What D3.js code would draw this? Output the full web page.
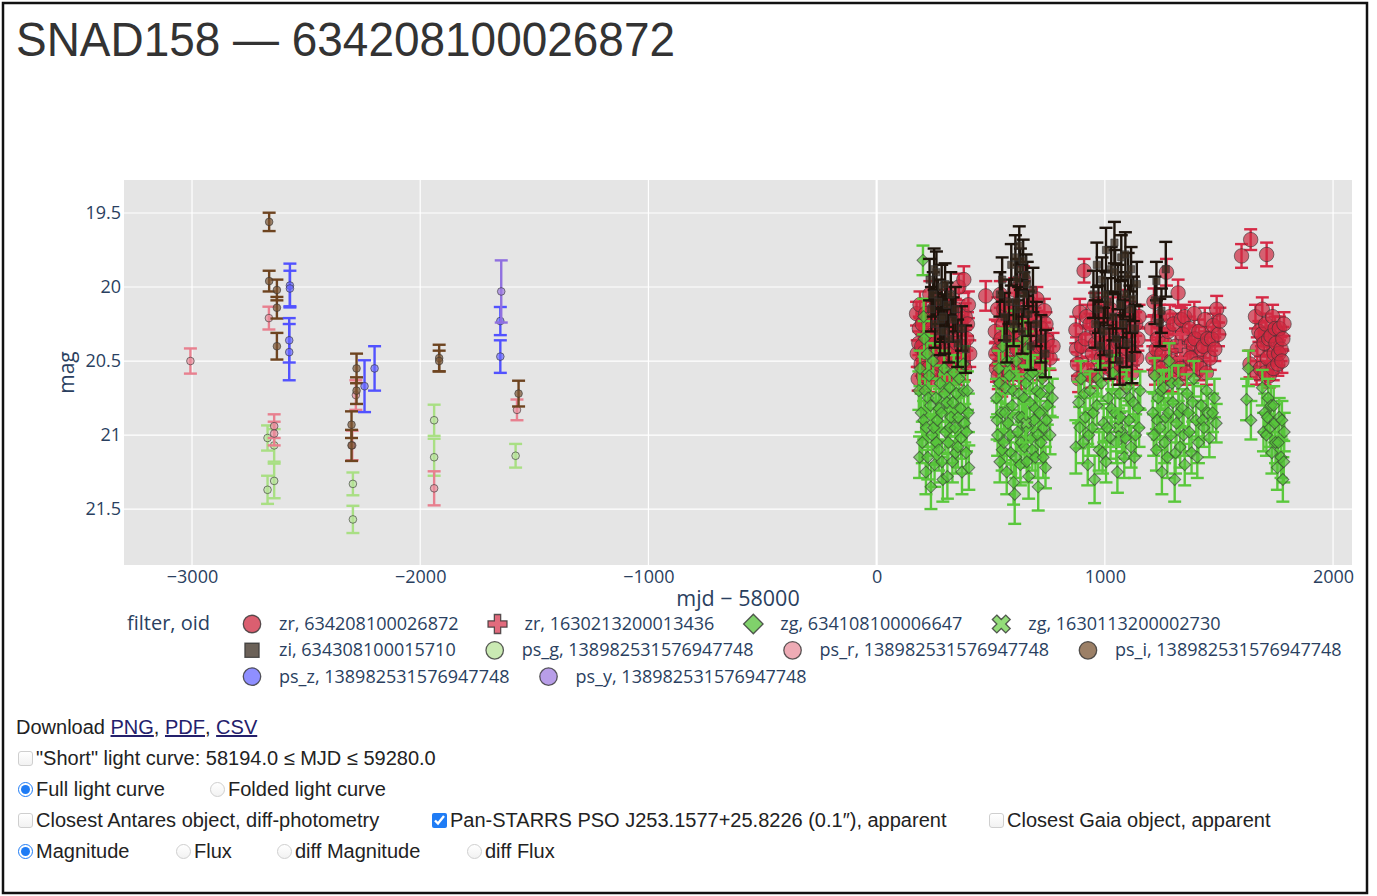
<!DOCTYPE html>
<html>
<head>
<meta charset="utf-8">
<script src="https://cdn.jsdelivr.net/npm/d3@7"></script>
<style>
  body { margin: 0; background: #fff; width: 1377px; height: 896px; overflow: hidden; position: relative;
         font-family: "Liberation Sans", Arial, Helvetica, sans-serif; }
  #chart { position: absolute; left: 0; top: 0; }
  .ctl { position: absolute; font-size: 20px; color: #222; white-space: nowrap; display: flex; align-items: center; height: 24px; }
  .ctl input { margin: 0 3px 0 0; width: 15px; height: 15px; accent-color: #1f7cf5; }
  .ctl input.off { appearance: none; -webkit-appearance: none; border: 1px solid #cfcfcf; background: linear-gradient(#fff, #f2f2f2); }
  .ctl input.off[type=checkbox] { border-radius: 3px; }
  .ctl input.off[type=radio] { border-radius: 50%; }
  .ctl a { color: #24206b; }
</style>
</head>
<body>
<svg id="chart"></svg>
<div id="controls"></div>
<script>
// axis ranges and ticks
const xRange = [-3298, 2083], yRange = [19.277, 21.878];
const xTicks = [-3000, -2000, -1000, 0, 1000, 2000];
const yTicks = [19.5, 20, 20.5, 21, 21.5];

// [mjd - 58000, mag, err]
const zr_634208100026872 = [
  [175,20.18,.08],[178,20.45,.09],[182,20.62,.08],[185,20.38,.08],[187,20.28,.08],[190,20.12,.09],[195,20.52,.08],[198,20.40,.08],
  [200,20.25,.07],[205,20.60,.09],[210,20.44,.07],[212,20.55,.08],[215,20.18,.08],[222,20.33,.07],[226,20.22,.08],[228,20.55,.08],
  [233,20.05,.09],[238,20.62,.09],[240,20.28,.07],[246,20.47,.08],[250,20.32,.08],[252,20.15,.08],[258,20.38,.07],[262,20.12,.08],
  [265,20.58,.09],[270,20.22,.07],[274,20.52,.08],[276,20.42,.08],[282,20.10,.08],[286,20.25,.08],[288,20.35,.07],[295,20.50,.08],
  [298,20.60,.09],[300,20.20,.07],[306,20.62,.09],[310,20.42,.08],[312,20.30,.08],[318,20.08,.08],[322,20.18,.08],[325,20.45,.07],
  [332,20.26,.08],[336,20.36,.08],[338,20.55,.08],[345,20.15,.07],[348,20.58,.08],[352,20.38,.08],[358,20.22,.08],[360,20.00,.09],
  [368,20.28,.08],[372,20.40,.08],[375,20.48,.08],[382,19.95,.09],[385,20.55,.08],[388,20.20,.09],[395,20.35,.08],[398,20.25,.08],
  [402,20.12,.09],[408,20.45,.09],[478,20.06,.10],
  [520,20.30,.08],[522,20.45,.08],[525,20.55,.09],[530,20.15,.08],[533,20.60,.09],[536,20.42,.07],[542,20.05,.09],[545,20.35,.08],
  [548,20.65,.09],[555,20.25,.07],[558,20.15,.08],[562,20.48,.08],[568,20.12,.08],[572,20.55,.08],[575,20.35,.07],[582,20.58,.08],
  [586,20.28,.08],[590,20.20,.07],[598,20.40,.08],[602,20.55,.08],[605,20.02,.08],[612,20.30,.07],[616,20.42,.08],[620,20.50,.08],
  [628,20.18,.07],[632,20.60,.09],[636,20.38,.08],[644,19.95,.09],[648,20.48,.08],[652,20.25,.07],[660,20.45,.08],[664,20.30,.08],
  [668,20.10,.08],[676,20.32,.07],[680,20.18,.08],[685,20.52,.08],[694,20.22,.08],[698,20.45,.08],[702,20.08,.08],[712,20.40,.07],
  [716,20.55,.08],[722,20.28,.08],[730,20.40,.08],[735,20.16,.08],[742,20.25,.08],[748,20.36,.08],[760,20.48,.08],[773,20.40,.09],
  [873,20.29,.09],[876,20.42,.08],[880,20.52,.08],[885,20.62,.09],[890,20.17,.09],[898,20.40,.08],[909,19.89,.08],[915,20.35,.08],
  [920,20.20,.08],[925,20.55,.08],[935,20.25,.07],[940,20.60,.08],[945,20.45,.08],[955,20.12,.08],[960,20.38,.08],[965,20.60,.08],
  [975,20.32,.07],[980,20.15,.08],[985,20.48,.08],[995,20.20,.08],[1000,20.50,.08],[1005,20.38,.07],[1015,20.55,.08],[1020,20.32,.08],
  [1025,20.15,.08],[1035,20.42,.07],[1040,20.52,.08],[1045,20.28,.08],[1055,20.58,.08],[1060,20.38,.08],[1065,20.22,.07],[1075,20.40,.08],
  [1080,20.60,.09],[1085,20.10,.08],[1095,20.50,.08],[1100,20.42,.08],[1105,20.30,.07],[1115,20.18,.08],[1120,20.58,.08],[1125,20.45,.08],
  [1135,20.25,.08],[1140,20.48,.08],[1145,20.35,.08],[1150,20.20,.08],
  [1205,20.28,.08],[1210,20.48,.08],[1215,20.10,.09],[1222,20.58,.08],[1225,20.42,.08],[1230,20.35,.08],[1240,20.20,.08],[1245,20.55,.08],
  [1250,20.45,.08],[1262,20.62,.08],[1265,20.38,.08],[1270,19.90,.09],[1278,20.30,.08],[1285,20.20,.08],[1290,20.50,.08],[1295,20.62,.09],
  [1300,20.25,.07],[1310,20.40,.08],[1315,20.52,.08],[1321,20.04,.09],[1330,20.55,.08],[1335,20.22,.08],[1340,20.32,.07],[1350,20.20,.08],
  [1355,20.58,.08],[1360,20.45,.08],[1370,20.28,.08],[1375,20.48,.08],[1380,20.38,.07],[1392,20.18,.08],[1395,20.35,.08],[1402,20.52,.08],
  [1412,20.30,.08],[1418,20.55,.08],[1425,20.42,.08],[1432,20.40,.08],[1438,20.22,.08],[1445,20.58,.08],[1450,20.35,.08],[1462,20.48,.08],
  [1468,20.35,.08],[1475,20.26,.08],[1482,20.42,.08],[1490,20.15,.09],[1498,20.32,.08],[1504,20.23,.09],
  [1599,19.79,.08],[1639,19.68,.07],[1709,19.78,.08],[1636,20.52,.09],[1660,20.20,.08],[1665,20.58,.08],[1668,20.42,.08],[1675,20.30,.07],
  [1682,20.55,.08],[1686,20.32,.08],[1690,20.15,.08],[1698,20.38,.08],[1702,20.58,.08],[1705,20.25,.07],[1712,20.48,.08],[1718,20.35,.08],
  [1720,20.60,.08],[1728,20.33,.07],[1735,20.20,.08],[1738,20.55,.08],[1742,20.45,.08],[1746,20.28,.08],[1750,20.38,.07],[1758,20.52,.08],
  [1762,20.45,.08],[1765,20.28,.08],[1772,20.42,.08],[1776,20.50,.08],[1780,20.35,.08],[1785,20.25,.08]
];
const zr_1630213200013436 = [[648,20.28,.08],[1050,20.35,.08],[1330,20.40,.08]];
const zg_634108100006647 = [
  [185,20.70,.13],[188,21.15,.14],[190,20.55,.12],[195,20.85,.13],[200,21.05,.14],[203,19.82,.10],[206,20.90,.13],[206,20.20,.12],
  [208,20.35,.12],[212,20.70,.13],[216,21.25,.15],[218,20.95,.13],[222,20.45,.12],[224,21.15,.15],[226,20.75,.13],[230,20.60,.12],
  [236,20.80,.13],[238,21.35,.15],[242,21.00,.14],[248,20.50,.12],[250,20.95,.13],[254,21.20,.15],[260,20.75,.13],[262,21.05,.14],
  [266,20.90,.13],[272,21.10,.14],[274,20.82,.13],[278,20.65,.12],[284,20.85,.13],[286,21.18,.14],[290,21.30,.15],[296,20.55,.12],
  [298,20.72,.13],[302,20.98,.14],[308,20.78,.13],[310,21.28,.15],[314,21.05,.14],[320,20.68,.12],[322,20.95,.13],[326,20.88,.13],
  [332,21.18,.14],[334,20.78,.13],[338,20.58,.12],[344,20.95,.13],[346,21.12,.14],[350,20.72,.13],[356,21.08,.14],[358,20.88,.13],
  [362,20.62,.12],[368,20.82,.13],[370,21.02,.14],[374,21.25,.15],[380,20.52,.12],[382,20.70,.13],[386,20.92,.13],[392,21.12,.14],
  [394,20.98,.13],[398,20.70,.13],[402,20.85,.13],[404,21.22,.15],
  [525,20.75,.13],[528,20.90,.13],[530,21.00,.14],[535,20.55,.12],[538,20.65,.13],[540,21.18,.14],[546,20.85,.13],[550,21.10,.14],
  [552,20.40,.12],[558,21.05,.14],[562,20.85,.13],[564,20.68,.13],[570,21.25,.15],[574,20.50,.12],[576,20.92,.13],[582,20.60,.12],
  [586,21.00,.14],[588,21.12,.14],[594,20.80,.13],[598,20.70,.13],[600,21.32,.15],[600,20.28,.12],[605,21.40,.20],[610,21.15,.14],
  [612,20.50,.12],[618,20.98,.13],[622,20.88,.13],[624,20.72,.13],[630,21.20,.14],[634,21.05,.14],[636,20.88,.13],[642,20.35,.12],
  [646,20.75,.13],[648,21.08,.14],[654,20.65,.12],[658,21.18,.14],[660,20.95,.13],[660,20.42,.12],[666,21.28,.15],[670,20.60,.12],
  [672,20.78,.13],[678,21.02,.14],[682,21.10,.14],[684,20.58,.12],[690,20.90,.13],[694,20.82,.13],[696,21.15,.14],[702,20.70,.13],
  [706,21.00,.14],[708,21.35,.16],[714,20.85,.13],[718,20.72,.13],[720,21.05,.14],[726,20.62,.12],[730,21.15,.14],[732,20.95,.13],
  [740,21.22,.14],[744,20.90,.13],[748,20.80,.13],[756,20.68,.13],[760,21.00,.13],[770,20.75,.13],
  [873,21.08,.18],
  [885,20.78,.14],[890,20.95,.14],[895,20.62,.12],[905,21.05,.14],[910,20.72,.13],[915,20.88,.13],[925,21.20,.14],[930,21.00,.14],
  [935,20.70,.13],[945,20.95,.13],[950,20.85,.13],[955,21.30,.16],[965,20.80,.13],[970,20.62,.12],[975,21.10,.14],[985,20.65,.12],
  [990,21.12,.14],[995,20.92,.13],[1005,21.18,.14],[1010,20.95,.13],[1015,20.75,.13],[1025,21.02,.14],[1030,20.82,.13],[1035,20.58,.12],
  [1045,20.85,.13],[1050,21.05,.14],[1055,21.25,.14],[1065,20.72,.13],[1070,20.88,.13],[1075,20.98,.14],[1085,21.15,.14],[1090,21.02,.14],
  [1095,20.68,.12],[1105,20.90,.13],[1110,20.75,.13],[1115,21.08,.14],[1125,20.78,.13],[1130,21.15,.14],[1135,21.00,.14],[1145,20.82,.13],
  [1150,20.95,.13],[1155,20.70,.13],
  [1210,20.85,.14],[1214,21.00,.14],[1218,20.60,.12],[1226,21.10,.14],[1230,20.90,.13],[1234,20.75,.13],[1242,20.95,.13],[1246,20.70,.13],
  [1250,21.25,.15],[1258,20.68,.12],[1262,21.05,.14],[1266,20.88,.13],[1274,21.15,.14],[1278,20.85,.13],[1282,20.50,.12],[1290,21.00,.14],
  [1294,20.65,.12],[1298,20.78,.13],[1306,21.30,.15],[1310,21.12,.14],[1314,20.92,.13],[1322,20.65,.12],[1326,20.85,.13],[1330,21.08,.14],
  [1340,20.82,.13],[1345,21.00,.14],[1350,21.20,.14],[1360,20.72,.13],[1365,20.85,.13],[1370,20.98,.13],[1380,21.12,.14],[1385,20.78,.13],
  [1390,20.62,.12],[1400,20.90,.13],[1405,21.15,.14],[1410,21.05,.14],[1422,20.80,.13],[1428,20.90,.13],[1434,20.95,.13],[1446,20.70,.13],
  [1452,20.85,.13],[1458,21.02,.13],[1472,20.85,.13],[1480,20.75,.13],[1488,20.92,.13],
  [1621,20.76,.14],[1629,20.55,.12],[1640,20.90,.13],[1690,20.68,.12],[1695,20.98,.13],[1700,20.85,.13],[1708,21.00,.14],[1712,20.88,.13],
  [1716,20.75,.13],[1724,20.95,.13],[1728,20.80,.13],[1732,21.12,.14],[1740,20.80,.13],[1744,20.92,.13],[1748,21.05,.14],[1756,21.22,.15],
  [1760,21.05,.14],[1764,20.88,.13],[1772,21.15,.14],[1776,20.90,.13],[1780,21.30,.15],[1784,21.18,.14],[1786,20.98,.13]
];
const zg_1630113200002730 = [[655,20.92,.13],[1060,20.95,.13]];
const zi_634308100015710 = [
  [232,19.95,.14],[240,20.15,.15],[248,20.05,.15],[252,19.88,.14],[256,20.25,.16],[262,19.90,.14],[270,20.10,.15],[278,20.30,.16],
  [282,20.22,.15],[285,20.00,.15],[292,20.20,.15],[298,20.30,.15],[300,19.98,.14],[308,20.12,.15],[316,20.35,.16],[325,20.05,.15],
  [335,20.22,.15],[345,20.15,.15],[355,20.38,.16],[372,20.28,.15],[390,20.42,.16],
  [540,20.05,.15],[550,19.95,.15],[560,20.20,.16],[570,20.35,.16],[580,20.10,.15],[590,19.85,.14],[600,20.25,.15],[608,19.80,.15],
  [612,20.10,.15],[615,19.95,.14],[622,20.15,.15],[625,19.72,.13],[630,19.88,.14],[638,20.30,.15],[642,19.82,.14],[645,20.05,.15],
  [655,19.92,.14],[660,19.98,.15],[665,20.18,.15],[675,20.40,.16],[685,20.02,.15],[700,20.25,.15],[720,20.35,.16],[740,20.45,.16],
  [950,20.05,.16],[958,20.25,.16],[965,19.85,.15],[972,20.15,.16],[980,20.40,.16],[988,19.95,.15],[995,20.30,.16],[1000,20.05,.16],
  [1005,19.75,.15],[1012,20.10,.16],[1020,20.45,.17],[1028,19.88,.15],[1035,20.20,.16],[1042,19.70,.14],[1045,19.90,.15],[1050,20.35,.16],
  [1058,20.00,.15],[1065,20.50,.16],[1068,20.12,.16],[1072,19.80,.15],[1080,20.25,.16],[1088,20.05,.15],[1090,19.78,.15],[1095,20.38,.16],
  [1102,19.92,.15],[1110,20.15,.16],[1115,19.88,.15],[1118,20.48,.17],[1125,20.08,.15],[1132,20.28,.16],[1140,19.98,.15],
  [1219,20.09,.16],[1226,19.96,.13],[1241,20.24,.16],[1248,20.16,.15],[1267,19.88,.185]
];
const ps_g = [[-2669,21.02,.085],[-2640,21.07,.11],[-2640,21.31,.117],[-2669,21.37,.095],[-2295,21.33,.077],[-2295,21.57,.092],
  [-1939,20.90,.105],[-1939,21.15,.125],[-1582,21.14,.08]];
const ps_r = [[-3007,20.50,.085],[-2663,20.21,.077],[-2640,20.94,.08],[-2640,20.99,.08],[-2282,20.73,.10],[-2298,21.07,.10],
  [-1939,21.36,.115],[-1576,20.83,.07]];
const ps_i = [[-2662,19.56,.062],[-2662,19.96,.07],[-2628,20.02,.07],[-2628,20.14,.073],[-2628,20.40,.09],[-2279,20.55,.10],
  [-2279,20.70,.09],[-2301,20.93,.09],[-2301,21.07,.105],[-1917,20.48,.09],[-1917,20.50,.07],[-1569,20.72,.087]];
const ps_z = [[-2571,19.99,.148],[-2571,20.01,.12],[-2574,20.36,.15],[-2574,20.44,.19],[-2244,20.67,.175],[-2200,20.55,.15],
  [-1649,20.23,.095],[-1649,20.47,.11]];
const ps_y = [[-1645,20.03,.21]];

const seriesNames = ["zr, 634208100026872", "zr, 1630213200013436", "zg, 634108100006647", "zg, 1630113200002730",
  "zi, 634308100015710", "ps_g, 138982531576947748", "ps_r, 138982531576947748", "ps_i, 138982531576947748",
  "ps_z, 138982531576947748", "ps_y, 138982531576947748"];
const seriesData = [zr_634208100026872, zr_1630213200013436, zg_634108100006647, zg_1630113200002730,
  zi_634308100015710, ps_g, ps_r, ps_i, ps_z, ps_y];

// styles per series
const styles = [
  { sym: "circle", fill: "#cf2a40", bar: "#d62a46", size: 165 },
  { sym: "cross", fill: "#d83a52", bar: "#d83a52", size: 90 },
  { sym: "diamond", fill: "#56c23a", bar: "#5ac83c", size: 72 },
  { sym: "x", fill: "#6fd04e", bar: "#5ac83c", size: 70 },
  { sym: "square", fill: "#3a2c20", bar: "#1e140c", size: 52 },
  { sym: "circle", fill: "#b8e39a", bar: "#a9df84", size: 46 },
  { sym: "circle", fill: "#e88f9c", bar: "#e8808f", size: 46 },
  { sym: "circle", fill: "#7b5634", bar: "#6e4420", size: 46 },
  { sym: "circle", fill: "#6a6aff", bar: "#5252ff", size: 46 },
  { sym: "circle", fill: "#a07de0", bar: "#9070e0", size: 46 }
];
const legendRows = [4, 4, 2];

const W = 1377, H = 896;
const M = { l: 124, r: 1352, t: 180, b: 565 };
const svg = d3.select("#chart").attr("width", W).attr("height", H);

// page frame
svg.append("rect").attr("x", 3).attr("y", 3).attr("width", 1364).attr("height", 890)
  .attr("fill", "none").attr("stroke", "#111").attr("stroke-width", 2.5);

svg.append("text").attr("x", 16).attr("y", 56).attr("font-size", 49).attr("fill", "#333")
  .attr("font-family", "'Liberation Sans', Arial, sans-serif")
  .attr("textLength", 659).attr("lengthAdjust", "spacingAndGlyphs")
  .text("SNAD158 \u2014 634208100026872");

const x = d3.scaleLinear().domain(xRange).range([M.l, M.r]);
const y = d3.scaleLinear().domain(yRange).range([M.t, M.b]);

svg.append("rect").attr("x", M.l).attr("y", M.t).attr("width", M.r - M.l).attr("height", M.b - M.t).attr("fill", "#e5e5e5");
svg.append("clipPath").attr("id", "clip").append("rect")
  .attr("x", M.l).attr("y", M.t).attr("width", M.r - M.l).attr("height", M.b - M.t);

// grid
const grid = svg.append("g");
grid.selectAll(".vx").data(xTicks).join("line")
  .attr("x1", d => x(d)).attr("x2", d => x(d)).attr("y1", M.t).attr("y2", M.b)
  .attr("stroke", "#fff").attr("stroke-width", d => d === 0 ? 2.2 : 1.2);
grid.selectAll(".hy").data(yTicks).join("line")
  .attr("x1", M.l).attr("x2", M.r).attr("y1", d => y(d)).attr("y2", d => y(d))
  .attr("stroke", "#fff").attr("stroke-width", 1.2);

// axes
const fmt = d => (d < 0 ? "\u2212" : "") + Math.abs(d);
const axFont = "'Open Sans', Verdana, Arial, sans-serif";
const gx = svg.append("g").attr("transform", `translate(0,${M.b})`)
  .call(d3.axisBottom(x).tickValues(xTicks).tickSize(0).tickPadding(5).tickFormat(fmt));
const gy = svg.append("g").attr("transform", `translate(${M.l},0)`)
  .call(d3.axisLeft(y).tickValues(yTicks).tickSize(0).tickPadding(3).tickFormat(d => String(d)));
[gx, gy].forEach(g => {
  g.select(".domain").remove();
  g.selectAll("text").attr("font-size", 18).attr("font-family", axFont).attr("fill", "#2a3f5f");
});

svg.append("text").attr("x", (M.l + M.r) / 2).attr("y", 606).attr("text-anchor", "middle")
  .attr("font-size", 21.5).attr("font-family", axFont).attr("fill", "#2a3f5f").text("mjd \u2212 58000");
svg.append("text").attr("transform", `translate(74,${(M.t + M.b) / 2}) rotate(-90)`).attr("text-anchor", "middle")
  .attr("font-size", 21).attr("font-family", axFont).attr("fill", "#2a3f5f").text("mag");

// symbols
const symType = s => ({ circle: d3.symbolCircle, cross: d3.symbolCross, diamond: d3.symbolSquare, x: d3.symbolCross, square: d3.symbolSquare }[s]);
const symRot = s => (s === "diamond" || s === "x") ? 45 : 0;

// traces
const plot = svg.append("g").attr("clip-path", "url(#clip)");
seriesData.forEach((data, i) => {
  const st = styles[i];
  const g = plot.append("g");
  const eb = g.append("g").attr("stroke", st.bar).attr("stroke-width", 2.4).attr("fill", "none");
  eb.selectAll(".v").data(data).join("line")
    .attr("x1", d => x(d[0])).attr("x2", d => x(d[0]))
    .attr("y1", d => y(d[1] - d[2])).attr("y2", d => y(d[1] + d[2]));
  eb.selectAll(".t").data(data).join("line")
    .attr("x1", d => x(d[0]) - 6.5).attr("x2", d => x(d[0]) + 6.5)
    .attr("y1", d => y(d[1] - d[2])).attr("y2", d => y(d[1] - d[2]));
  eb.selectAll(".b").data(data).join("line")
    .attr("x1", d => x(d[0]) - 6.5).attr("x2", d => x(d[0]) + 6.5)
    .attr("y1", d => y(d[1] + d[2])).attr("y2", d => y(d[1] + d[2]));
  g.selectAll("path").data(data).join("path")
    .attr("d", d3.symbol().type(symType(st.sym)).size(st.size))
    .attr("transform", d => `translate(${x(d[0])},${y(d[1])}) rotate(${symRot(st.sym)})`)
    .attr("fill", st.fill).attr("fill-opacity", 0.7)
    .attr("stroke", "#333").attr("stroke-opacity", 0.6).attr("stroke-width", 1);
});

// legend
const lg = svg.append("g").attr("font-family", axFont).attr("fill", "#2a3f5f");
lg.append("text").attr("x", 127).attr("y", 630).attr("font-size", 20).text("filter, oid");
let idx = 0;
legendRows.forEach((n, r) => {
  const cy = 624 + r * 26.3;
  let cur = 240;
  for (let k = 0; k < n; k++, idx++) {
    const st = styles[idx];
    const big = st.sym === "circle" ? 240 : st.sym === "square" ? 200 : st.sym === "diamond" ? 190 : 200;
    lg.append("path")
      .attr("d", d3.symbol().type(symType(st.sym)).size(big)())
      .attr("transform", `translate(${cur + 12},${cy}) rotate(${symRot(st.sym)})`)
      .attr("fill", st.fill).attr("fill-opacity", 0.75)
      .attr("stroke", "#333").attr("stroke-opacity", 0.8).attr("stroke-width", 1.3);
    const t = lg.append("text").attr("x", cur + 39).attr("y", cy + 6).attr("font-size", 18).text(seriesNames[idx]);
    cur = cur + 39 + t.node().getComputedTextLength() + 27;
  }
});

// controls below the chart
const ctl = d3.select("#controls");
const addCtl = (left, cy, html) => ctl.append("div").attr("class", "ctl")
  .style("left", left + "px").style("top", (cy - 12) + "px").html(html);
addCtl(16, 727, 'Download&nbsp;<a href="#">PNG</a>,&nbsp;<a href="#">PDF</a>,&nbsp;<a href="#">CSV</a>');
addCtl(18, 758, '<input type="checkbox" class="off">"Short" light curve: 58194.0 \u2264 MJD \u2264 59280.0');
addCtl(18, 789, '<input type="radio" name="a" checked>Full light curve');
addCtl(210, 789, '<input type="radio" name="a" class="off">Folded light curve');
addCtl(18, 820, '<input type="checkbox" class="off">Closest Antares object, diff-photometry');
addCtl(432, 820, '<input type="checkbox" checked>Pan-STARRS PSO J253.1577+25.8226 (0.1\u2033), apparent');
addCtl(989, 820, '<input type="checkbox" class="off">Closest Gaia object, apparent');
addCtl(18, 851, '<input type="radio" name="b" checked>Magnitude');
addCtl(176, 851, '<input type="radio" name="b" class="off">Flux');
addCtl(277, 851, '<input type="radio" name="b" class="off">diff Magnitude');
addCtl(467, 851, '<input type="radio" name="b" class="off">diff Flux');
</script>
</body>
</html>
